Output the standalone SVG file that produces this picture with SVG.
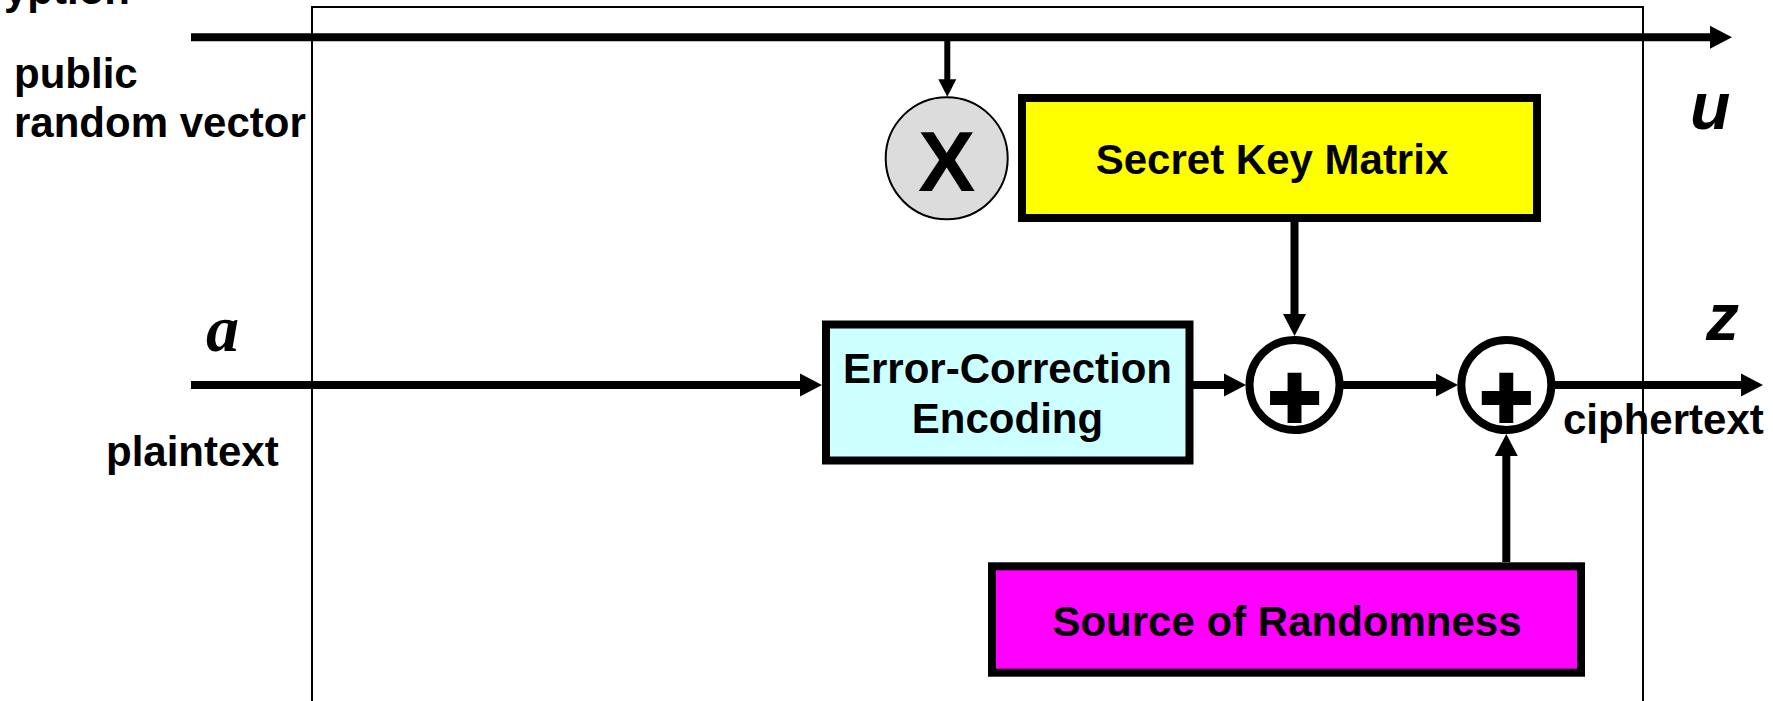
<svg xmlns="http://www.w3.org/2000/svg" width="1773" height="701" viewBox="0 0 1773 701">
  <style>
    .lbl { font-family: "Liberation Sans", Arial, sans-serif; font-weight: bold; font-size: 42px; fill: #000; }
    .var { font-family: "Liberation Sans", Arial, sans-serif; font-weight: bold; font-style: italic; font-size: 66px; fill: #000; }
    .varSerif { font-family: "Liberation Serif", "Times New Roman", serif; font-weight: bold; font-style: italic; font-size: 66px; fill: #000; }
    .box { stroke: #000; stroke-width: 8; }
    .wire { stroke: #000; stroke-width: 8; fill: none; }
    .thin { stroke: #000; stroke-width: 6; fill: none; }
    .sum { fill: #fff; stroke: #000; stroke-width: 8; }
    .plus { font-family: "Liberation Sans", Arial, sans-serif; font-weight: bold; font-size: 90px; fill: #000; stroke: #000; stroke-width: 4; }
  </style>
  <defs>
    <marker id="head" markerUnits="userSpaceOnUse" viewBox="0 -12 24 24" refX="1" refY="0" markerWidth="24" markerHeight="24" orient="auto" overflow="visible">
      <path d="M0,-11.5 L22,0 L0,11.5 Z" fill="#000"/>
    </marker>
    <marker id="headSmall" markerUnits="userSpaceOnUse" viewBox="0 -10 20 20" refX="1" refY="0" markerWidth="20" markerHeight="20" orient="auto" overflow="visible">
      <path d="M0,-9 L17.5,0 L0,9 Z" fill="#000"/>
    </marker>
  </defs>

  <rect width="1773" height="701" fill="#fff"/>

  <!-- encryptor boundary -->
  <rect id="frame" x="312" y="7" width="1331" height="760" fill="none" stroke="#000" stroke-width="2"/>

  <!-- outside labels -->
  <g id="labels">
    <text class="lbl" x="4" y="4">yption</text>
    <text class="lbl" x="14" y="88">public</text>
    <text class="lbl" x="14" y="137">random vector</text>
    <text class="varSerif" x="206" y="351">a</text>
    <text class="lbl" x="106" y="466">plaintext</text>
    <text class="var" x="1690" y="129">u</text>
    <text class="var" x="1706" y="340">z</text>
    <text class="lbl" x="1563" y="434">ciphertext</text>
  </g>

  <!-- connectors -->
  <g id="connectors">
    <line class="wire" x1="191" y1="37.3" x2="1711" y2="37.3" marker-end="url(#head)"/>
    <line class="thin" x1="947.3" y1="41" x2="947.3" y2="80.3" marker-end="url(#headSmall)"/>
    <line class="wire" x1="191" y1="385" x2="801" y2="385" marker-end="url(#head)"/>
    <line class="wire" x1="1193" y1="385" x2="1225" y2="385" marker-end="url(#head)"/>
    <line class="wire" x1="1343" y1="385" x2="1437" y2="385" marker-end="url(#head)"/>
    <line class="wire" x1="1555" y1="385" x2="1742" y2="385" marker-end="url(#head)"/>
    <line class="wire" x1="1294.5" y1="222" x2="1294.5" y2="315" marker-end="url(#head)"/>
    <line class="wire" x1="1506.3" y1="562" x2="1506.3" y2="455" marker-end="url(#head)"/>
  </g>

  <!-- multiplier -->
  <g id="mult">
    <circle cx="946.7" cy="158.3" r="61" fill="#dcdcdc" stroke="#000" stroke-width="2"/>
    <text class="lbl" x="946.7" y="190.7" text-anchor="middle" style="font-size:86px">X</text>
  </g>

  <!-- secret key matrix -->
  <g id="secret-key">
    <rect class="box" x="1022" y="98" width="515" height="120" fill="#ffff00"/>
    <text class="lbl" x="1272" y="174" text-anchor="middle">Secret Key Matrix</text>
  </g>

  <!-- error-correction encoder -->
  <g id="ecc">
    <rect class="box" x="826" y="324.5" width="363.5" height="136" fill="#ccffff"/>
    <text class="lbl" x="1007.5" y="383" text-anchor="middle">Error-Correction</text>
    <text class="lbl" x="1007.5" y="433" text-anchor="middle">Encoding</text>
  </g>

  <!-- adders -->
  <g id="adder1">
    <circle class="sum" cx="1294.5" cy="385" r="45"/>
    <text class="plus" x="1294.5" y="428" text-anchor="middle">+</text>
  </g>
  <g id="adder2">
    <circle class="sum" cx="1506.3" cy="385" r="45"/>
    <text class="plus" x="1506.3" y="428" text-anchor="middle">+</text>
  </g>

  <!-- randomness source -->
  <g id="randomness">
    <rect class="box" x="992" y="566.3" width="589" height="106.4" fill="#ff00ff"/>
    <text class="lbl" x="1287" y="636" text-anchor="middle">Source of Randomness</text>
  </g>
</svg>
